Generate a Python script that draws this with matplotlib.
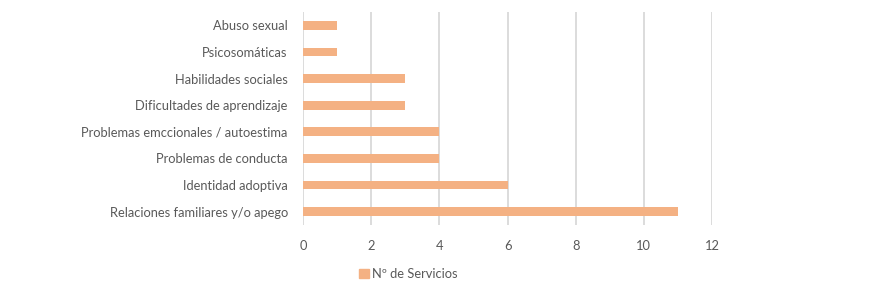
import matplotlib
matplotlib.use("Agg")
import matplotlib.pyplot as plt
import matplotlib.patches as patches

# data (top to bottom as shown)
categories = [
    "Abuso sexual",
    "Psicosomáticas",
    "Habilidades sociales",
    "Dificultades de aprendizaje",
    "Problemas emccionales / autoestima",
    "Problemas de conducta",
    "Identidad adoptiva",
    "Relaciones familiares y/o apego",
]
servicios = [1, 1, 3, 3, 4, 4, 6, 11]
x_ticks = [0, 2, 4, 6, 8, 10, 12]
series_label = "Nº de Servicios"

plt.rcParams['font.family'] = ['Lato', 'DejaVu Sans']

bar_color = '#F4B183'
text_color = '#595959'
grid_color = '#D9D9D9'

fig = plt.figure(figsize=(8.84, 2.94), dpi=100)
ax = fig.add_axes([0.3428, 0.2347, 0.4626, 0.7245])

ypos = list(range(len(categories)))[::-1]
ax.barh(ypos, servicios, height=0.33, color=bar_color, zorder=3)

ax.set_xlim(0, 12)
ax.set_ylim(-0.5, len(categories) - 0.5)
ax.set_xticks(x_ticks)
ax.set_xticklabels([str(t) for t in x_ticks])
ax.set_yticks(ypos)
ax.set_yticklabels(categories)

ax.grid(axis='x', color=grid_color, linewidth=1.3, zorder=0)
for side in ['top', 'right', 'bottom', 'left']:
    ax.spines[side].set_visible(False)
ax.tick_params(axis='both', length=0, labelsize=9.3, colors=text_color)
ax.tick_params(axis='x', pad=11)
ax.tick_params(axis='y', pad=11)

handle = patches.Patch(color=bar_color, label=series_label)
fig.legend(handles=[handle], loc='center', bbox_to_anchor=(0.462, 0.068),
           frameon=False, fontsize=9.3, labelcolor=text_color,
           handlelength=0.75, handleheight=0.75, handletextpad=0.3)

fig.savefig("out.png", dpi=100)
